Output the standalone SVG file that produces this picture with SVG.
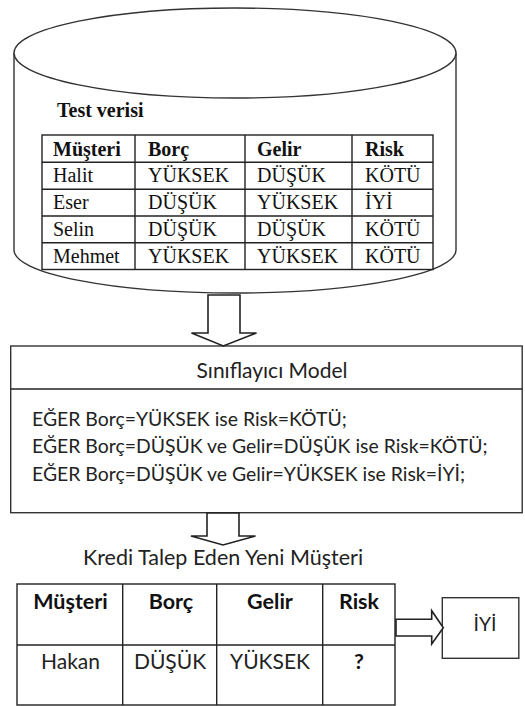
<svg xmlns="http://www.w3.org/2000/svg" width="525" height="706" viewBox="0 0 525 706">
  <style>
    .ln { fill: none; stroke: #222; stroke-width: 1.4; }
    .box { fill: #fff; stroke: #333; stroke-width: 1.4; }
    .serif { font-family: "Liberation Serif", "Times New Roman", serif; font-size: 20px; fill: #111; }
    .serif-b { font-family: "Liberation Serif", "Times New Roman", serif; font-size: 20px; font-weight: bold; fill: #111; }
    .sans { font-family: Lato, "Noto Sans", sans-serif; font-size: 21px; fill: #222; }
    .rule { font-family: Lato, "Noto Sans", sans-serif; font-size: 19.4px; fill: #222; }
    .caption { font-family: Lato, "Noto Sans", sans-serif; font-size: 21.5px; fill: #222; }
    .sans-b { font-family: Lato, "Noto Sans", sans-serif; font-size: 21.5px; font-weight: bold; fill: #111; }
    .mid { text-anchor: middle; }
    .arrow { fill: #fff; stroke: #222; stroke-width: 1.6; stroke-linejoin: miter; }
  </style>

  <!-- database cylinder holding the test data -->
  <g id="test-data">
    <path class="box" d="M14,53 L14,250 A221,43 0 0 0 456,250 L456,53" />
    <ellipse class="box" cx="235" cy="53" rx="221" ry="45" />
    <text class="serif-b" x="57" y="117">Test verisi</text>
    <g class="ln">
      <rect x="42" y="135" width="391" height="134.5" />
      <line x1="42" y1="162.3" x2="433" y2="162.3" />
      <line x1="42" y1="189.2" x2="433" y2="189.2" />
      <line x1="42" y1="216" x2="433" y2="216" />
      <line x1="42" y1="242.8" x2="433" y2="242.8" />
      <line x1="135" y1="135" x2="135" y2="269.5" />
      <line x1="245" y1="135" x2="245" y2="269.5" />
      <line x1="352" y1="135" x2="352" y2="269.5" />
    </g>
    <text class="serif-b" x="53" y="155.5">Müşteri</text>
    <text class="serif-b" x="148" y="155.5">Borç</text>
    <text class="serif-b" x="257" y="155.5">Gelir</text>
    <text class="serif-b" x="365" y="155.5">Risk</text>
    <text class="serif" x="53" y="182.3">Halit</text>
    <text class="serif" x="148" y="182.3">YÜKSEK</text>
    <text class="serif" x="257" y="182.3">DÜŞÜK</text>
    <text class="serif" x="365" y="182.3">KÖTÜ</text>
    <text class="serif" x="53" y="209">Eser</text>
    <text class="serif" x="148" y="209">DÜŞÜK</text>
    <text class="serif" x="257" y="209">YÜKSEK</text>
    <text class="serif" x="365" y="209">İYİ</text>
    <text class="serif" x="53" y="235.8">Selin</text>
    <text class="serif" x="148" y="235.8">DÜŞÜK</text>
    <text class="serif" x="257" y="235.8">DÜŞÜK</text>
    <text class="serif" x="365" y="235.8">KÖTÜ</text>
    <text class="serif" x="53" y="262.5">Mehmet</text>
    <text class="serif" x="148" y="262.5">YÜKSEK</text>
    <text class="serif" x="257" y="262.5">YÜKSEK</text>
    <text class="serif" x="365" y="262.5">KÖTÜ</text>
  </g>

  <!-- classifier model with its rules -->
  <g id="classifier">
    <rect class="box" x="10.7" y="346" width="511.5" height="166.7" />
    <line class="ln" x1="10.7" y1="389" x2="522.2" y2="389" />
    <text class="sans mid" x="272" y="378">Sınıflayıcı Model</text>
    <text class="rule" x="32" y="426">EĞER Borç=YÜKSEK ise Risk=KÖTÜ;</text>
    <text class="rule" x="32" y="453">EĞER Borç=DÜŞÜK ve Gelir=DÜŞÜK ise Risk=KÖTÜ;</text>
    <text class="rule" x="32" y="480.5">EĞER Borç=DÜŞÜK ve Gelir=YÜKSEK ise Risk=İYİ;</text>
  </g>

  <!-- new applicant table -->
  <g id="new-customer">
    <text class="caption mid" x="223" y="565">Kredi Talep Eden Yeni Müşteri</text>
    <g class="ln">
      <rect x="17" y="584" width="378" height="121" />
      <line x1="17" y1="645" x2="395" y2="645" />
      <line x1="122.7" y1="584" x2="122.7" y2="705" />
      <line x1="216.7" y1="584" x2="216.7" y2="705" />
      <line x1="322.7" y1="584" x2="322.7" y2="705" />
    </g>
    <text class="sans-b mid" x="70.5" y="608.5">Müşteri</text>
    <text class="sans-b mid" x="171" y="608.5">Borç</text>
    <text class="sans-b mid" x="270" y="608.5">Gelir</text>
    <text class="sans-b mid" x="359" y="608.5">Risk</text>
    <text class="sans mid" x="70.5" y="668.5">Hakan</text>
    <text class="sans mid" x="170" y="668.5">DÜŞÜK</text>
    <text class="sans mid" x="270" y="668.5">YÜKSEK</text>
    <text class="sans-b mid" x="359" y="668.5">?</text>
  </g>

  <!-- predicted result -->
  <g id="result">
    <rect class="box" x="442.3" y="597.7" width="76.5" height="60.6" />
    <text class="rule" x="473.5" y="630.5">İYİ</text>
  </g>

  <!-- block arrows -->
  <g id="connectors">
    <path class="arrow" d="M208,295 L240,295 L240,333 L256.5,333 L223.3,346 L191.5,333 L208,333 Z" />
    <path class="arrow" d="M207,513 L239,513 L239,536 L255.5,536 L223,545 L191,536 L207,536 Z" />
    <path class="arrow" d="M396,619.3 L431.7,619.3 L431.7,610.7 L443.3,627.7 L431.7,644 L431.7,636 L396,636 Z" />
  </g>
</svg>
